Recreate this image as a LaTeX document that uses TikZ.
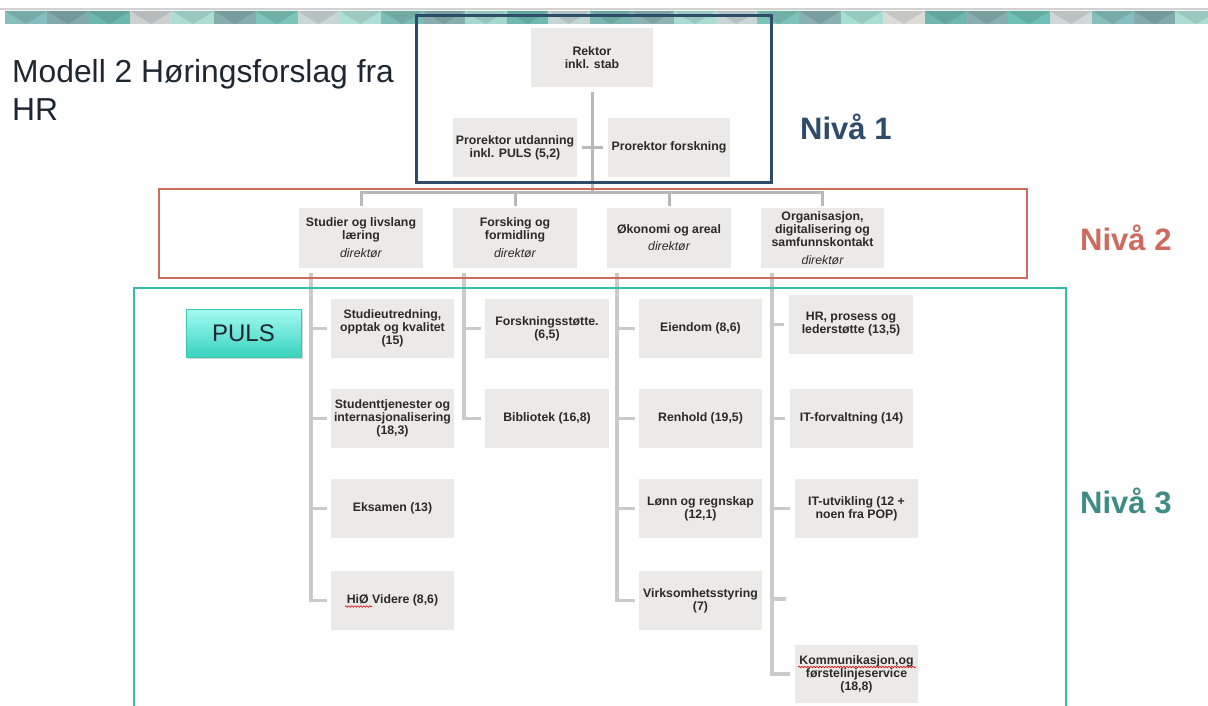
\documentclass[tikz,border=0pt]{standalone}
\usepackage{fontspec}
\setmainfont{Liberation Sans}
\usetikzlibrary{decorations.pathmorphing,shadows}
\definecolor{navyf}{HTML}{2F4B6A}
\definecolor{redf}{HTML}{CE6B5E}
\definecolor{tealf}{HTML}{34BEA9}
\definecolor{nivathree}{HTML}{3E8C85}
\definecolor{boxfill}{HTML}{ECEAE8}
\definecolor{boxtext}{HTML}{2A2A2A}
\definecolor{connc}{HTML}{CACACA}
\definecolor{busc}{HTML}{B8B8B8}
\definecolor{titletext}{HTML}{1E2730}
\definecolor{pulstop}{HTML}{A4FBF4}
\definecolor{pulsbot}{HTML}{38D2BC}
\definecolor{pulsline}{HTML}{3CC6B2}
\tikzset{
  unitbox/.style={fill=boxfill, text=boxtext, inner sep=0pt, minimum width=123pt,
    minimum height=59pt, align=center, font=\fontsize{12.3}{13}\selectfont\bfseries},
  dirbox/.style={unitbox, minimum width=124pt, minimum height=60pt},
  connline/.style={draw=connc, line width=3.5pt},
  busline/.style={draw=busc, line width=3pt},
  nivalabel/.style={anchor=base west, inner sep=0pt, font=\fontsize{31}{31}\selectfont\bfseries},
  squig/.style={draw=red!85!black, line width=0.6pt, decorate,
    decoration={snake, amplitude=0.8pt, segment length=3pt}}
}
\begin{document}
\begin{tikzpicture}[x=1pt,y=-1pt]
\useasboundingbox (0,0) rectangle (1208,706);
\fill[white] (0,0) rectangle (1208,706);
% banner
\begin{scope}
\clip (0,0) rectangle (1208,30);
\draw[gray!35, line width=1.2pt] (0,9) -- (1208,9);
\foreach \c [count=\i] in {86BDBD,82AAAC,6CB7AE,CBD0D0,ABDDD4,86ACAE,7DC4B9,CAD6D6,AEDFD6,7CBDB4,88AEB0,A5D9D0,6FB9B0,C5D5D5,7AB7B2,8DB3B4,A9DDD4,C8D6D6,7CC4B9,88AFB1,A8DFD5,DCDCD8,6FB6AF,88AEB0,6FC0B4,D0D8D8,86BDBD,82AAAC,ABDDD4}{
  \definecolor{bn}{HTML}{\c}
  \fill[bn] ({5+41.8*(\i-1)},11) rectangle ++(41.9,13);
  \fill[bn!90!black] ({5+41.8*(\i-1)},11) -- ++(41.8,0) -- ++(-20.9,13) -- cycle;
}
\end{scope}
% title
\node[anchor=north west, inner sep=0pt, align=left, text=titletext,
  font=\fontsize{31.8}{38}\selectfont] (title) at (12,59) {Modell 2 Høringsforslag fra\\HR};
% level labels
\node[nivalabel, text=navyf] (n1) at (800,140) {Nivå 1};
\node[nivalabel, text=redf] (n2) at (1080,250) {Nivå 2};
\node[nivalabel, text=nivathree] (n3) at (1080,513) {Nivå 3};
% level 1
\node[unitbox, minimum width=122pt] (rektor) at (592,57.5) {Rektor\\inkl. stab};
\node[unitbox, minimum width=124pt] (pu) at (515,147.5) {Prorektor utdanning\\inkl. PULS (5,2)};
\node[unitbox, minimum width=122pt] (pf) at (669,147.5) {Prorektor forskning};
% level 2
\node[dirbox] (l2a) at (361,238) {Studier og livslang\\læring\\[5pt]{\normalfont\itshape direktør}};
\node[dirbox] (l2b) at (515,238) {Forsking og\\formidling\\[5pt]{\normalfont\itshape direktør}};
\node[dirbox] (l2c) at (669,238) {Økonomi og areal\\[4pt]{\normalfont\itshape direktør}};
\node[dirbox, minimum width=123pt] (l2d) at (822.5,238) {Organisasjon,\\digitalisering og\\samfunnskontakt\\[5pt]{\normalfont\itshape direktør}};
% level 3
\node[unitbox] (c1a) at (392.5,328.5) {Studieutredning,\\opptak og kvalitet\\(15)};
\node[unitbox] (c1b) at (392.5,418.5) {Studenttjenester og\\internasjonalisering\\(18,3)};
\node[unitbox] (c1c) at (392.5,508.5) {Eksamen (13)};
\node[unitbox] (c1d) at (392.5,600.5) {HiØ Videre (8,6)};
\node[unitbox, minimum width=124pt] (c2a) at (547,328.5) {Forskningsstøtte.\\(6,5)};
\node[unitbox, minimum width=124pt] (c2b) at (547,418.5) {Bibliotek (16,8)};
\node[unitbox] (c3a) at (700.5,328.5) {Eiendom (8,6)};
\node[unitbox] (c3b) at (700.5,418.5) {Renhold (19,5)};
\node[unitbox] (c3c) at (700.5,508.5) {Lønn og regnskap\\(12,1)};
\node[unitbox] (c3d) at (700.5,600.5) {Virksomhetsstyring\\(7)};
\node[unitbox, minimum width=124pt] (c4a) at (851,324.5) {HR, prosess og\\lederstøtte (13,5)};
\node[unitbox] (c4b) at (851.5,418.5) {IT-forvaltning (14)};
\node[unitbox] (c4c) at (856.5,508.5) {IT-utvikling (12 +\\noen fra POP)};
\node[unitbox, minimum height=58pt] (c4d) at (856.5,674) {Kommunikasjon,og\\førstelinjeservice\\(18,8)};
% PULS
\node[minimum width=115pt, minimum height=48pt, inner sep=0pt, top color=pulstop,
  bottom color=pulsbot, draw=pulsline, line width=0.8pt, text=titletext,
  font=\fontsize{24}{24}\selectfont,
  drop shadow={opacity=0.3, shadow xshift=1.5pt, shadow yshift=-2pt}] (puls) at (243.5,333) {PULS};
% connectors level 1
\coordinate (bus) at (0,193);
\draw[busline] ([yshift=-5pt]rektor.south) -- (rektor.south |- bus);
\draw[busline] ([xshift=5pt]pu.east) -- ([xshift=-5pt]pf.west);
\draw[busline] ([yshift=2pt]l2a.north) -- (l2a.north |- bus) -- (l2d.north |- bus) -- ([yshift=2pt]l2d.north);
\draw[busline] ([yshift=2pt]l2b.north) -- (l2b.north |- bus);
\draw[busline] ([yshift=2pt]l2c.north) -- (l2c.north |- bus);
% spines
\coordinate (s1) at ([xshift=12pt]l2a.south west);
\coordinate (s2) at ([xshift=11pt]l2b.south west);
\coordinate (s3) at ([xshift=10pt]l2c.south west);
\coordinate (s4) at ([xshift=11pt]l2d.south west);
\coordinate (x4) at (786,599);
\draw[connline] ([yshift=-5pt]s1) |- ([xshift=-4pt]c1d.west);
\foreach \n in {c1a,c1b,c1c} \draw[connline] (\n.west -| s1) -- ([xshift=-4pt]\n.west);
\draw[connline] ([yshift=-5pt]s2) |- ([xshift=-4pt]c2b.west);
\draw[connline] (c2a.west -| s2) -- ([xshift=-4pt]c2a.west);
\draw[connline] ([yshift=-5pt]s3) |- ([xshift=-4pt]c3d.west);
\foreach \n in {c3a,c3b,c3c} \draw[connline] (\n.west -| s3) -- ([xshift=-4pt]\n.west);
\draw[connline] ([yshift=-5pt]s4) |- ([xshift=-5pt]c4d.west);
\foreach \n in {c4a,c4b,c4c} \draw[connline] (\n.west -| s4) -- ([xshift=-5pt]\n.west);
\draw[connline] (x4 -| s4) -- (x4);
% squiggles
\draw[squig] (345,606.5) -- (372,606.5);
\draw[squig] (798,667) -- (916,667);
% frames
\draw[navyf, line width=3pt] (416,16) rectangle (771,183);
\draw[redf, line width=2.5pt] (159,189) rectangle (1027,278);
\draw[tealf, line width=2.5pt] (134,712) -- (134,288) -- (1066,288) -- (1066,712);
\end{tikzpicture}
\end{document}
